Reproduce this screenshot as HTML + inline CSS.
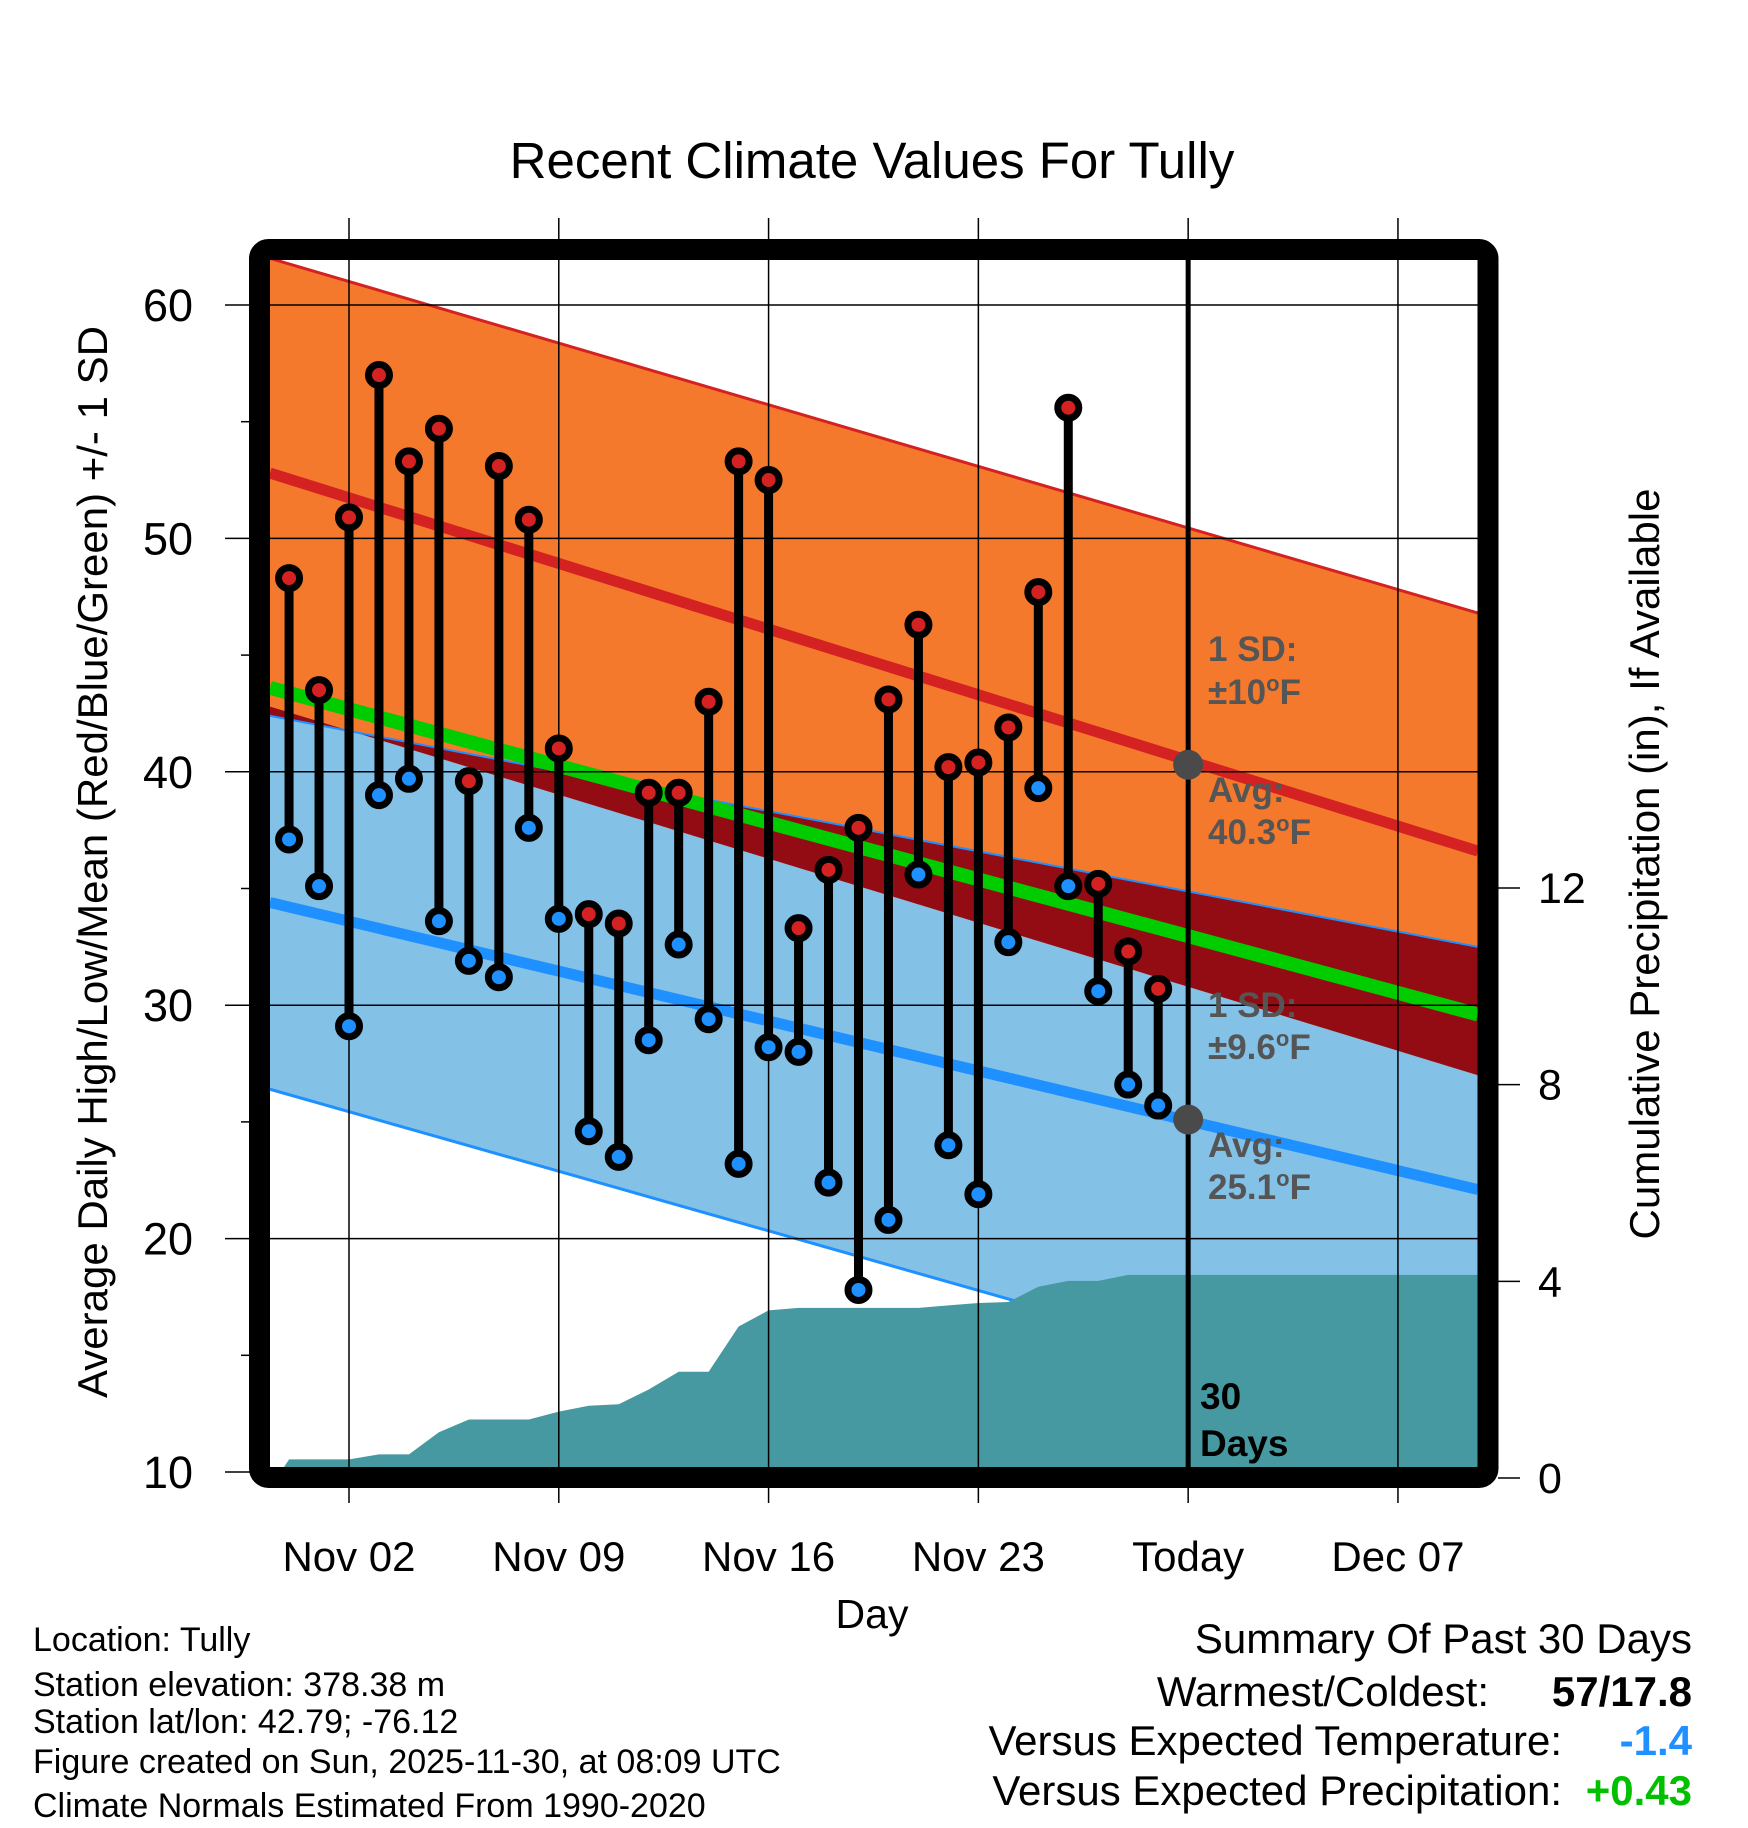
<!DOCTYPE html>
<html><head><meta charset="utf-8"><style>
html,body{margin:0;padding:0;background:#fff;}
svg{display:block;font-family:"Liberation Sans",sans-serif;}
</style></head><body>
<svg id="chart" width="1748" height="1828" viewBox="0 0 1748 1828">
<defs><clipPath id="inner"><rect x="270" y="260" width="1208" height="1208"/></clipPath></defs>
<text x="872" y="178" font-size="51" text-anchor="middle">Recent Climate Values For Tully</text>
<g id="plot" clip-path="url(#inner)"></g>
<g id="overlay"></g>
<rect x="259.5" y="249.5" width="1228.5" height="1228" rx="9" fill="none" stroke="#000" stroke-width="21"/>
<g id="axes"></g>
<text x="107" y="862" font-size="42" text-anchor="middle" transform="rotate(-90 107 862)">Average Daily High/Low/Mean (Red/Blue/Green) +/- 1 SD</text>
<text x="1659" y="864" font-size="42" text-anchor="middle" transform="rotate(-90 1659 864)">Cumulative Precipitation (in), If Available</text>
<text x="872" y="1628" font-size="41" text-anchor="middle">Day</text>
<g font-size="34">
<text x="33" y="1651">Location: Tully</text>
<text x="33" y="1696">Station elevation: 378.38 m</text>
<text x="33" y="1733">Station lat/lon: 42.79; -76.12</text>
<text x="33" y="1773">Figure created on Sun, 2025-11-30, at 08:09 UTC</text>
<text x="33" y="1817">Climate Normals Estimated From 1990-2020</text>
</g>
<g font-size="42" text-anchor="end">
<text x="1692" y="1653">Summary Of Past 30 Days</text>
<text x="1489" y="1706">Warmest/Coldest:</text>
<text x="1692" y="1706" font-weight="bold">57/17.8</text>
<text x="1562" y="1755">Versus Expected Temperature:</text>
<text x="1692" y="1755" font-weight="bold" fill="#1e90ff">-1.4</text>
<text x="1562" y="1805">Versus Expected Precipitation:</text>
<text x="1692" y="1805" font-weight="bold" fill="#00c000">+0.43</text>
</g>
</svg>
<script>
const highs=[48.3,43.5,50.9,57.0,53.3,54.7,39.6,53.1,50.8,41.0,33.9,33.5,39.1,39.1,43.0,53.3,52.5,33.3,35.8,37.6,43.1,46.3,40.2,40.4,41.9,47.7,55.6,35.2,32.3,30.7];
const lows=[37.1,35.1,29.1,39.0,39.7,33.6,31.9,31.2,37.6,33.7,24.6,23.5,28.5,32.6,29.4,23.2,28.2,28.0,22.4,17.8,20.8,35.6,24.0,21.9,32.7,39.3,35.1,30.6,26.6,25.7];
const precip=[0.38,0.38,0.38,0.48,0.48,0.93,1.19,1.19,1.19,1.35,1.47,1.50,1.80,2.16,2.16,3.08,3.41,3.46,3.46,3.46,3.46,3.46,3.51,3.56,3.58,3.89,4.01,4.01,4.13,4.13];
const normHigh=[52.8,36.6];
const normHighUp=[62.0,46.8];
const normHighDn=[42.8,27.0];
const normLow=[34.4,22.1];
const normLowUp=[42.4,32.5];
const normLowDn=[26.4,11.7];
const normMean=[43.6,29.6];
const xTickLabels=["Nov 02","Nov 09","Nov 16","Nov 23","Today","Dec 07"];
const xTickDays=[2,9,16,23,30,37];
const yTicks=[10,20,30,40,50,60];
const pTicks=[0,4,8,12];
const todayHigh=40.3, todayLow=25.1;

const NS="http://www.w3.org/2000/svg";
const X=d=>349+(d-2)*29.97;
const Y=t=>305+(60-t)*23.34;
const P=p=>1478-p*49.17;
const D0=-0.64, D1=39.67;
function mk(tag,attrs,parent){const e=document.createElementNS(NS,tag);for(const k in attrs)e.setAttribute(k,attrs[k]);parent.appendChild(e);return e;}
const plot=document.getElementById('plot'),ov=document.getElementById('overlay'),axes=document.getElementById('axes');
function band(a,b,fill,name){
  const pts=[[X(D0),Y(a[0])],[X(D1),Y(a[1])],[X(D1),Y(b[1])],[X(D0),Y(b[0])]];
  const e=mk('polygon',{points:pts.map(p=>p.join(',')).join(' '),fill:fill},plot);
  
  
}
function line(a,color,w,name){
  const e=mk('line',{x1:X(D0),y1:Y(a[0]),x2:X(D1),y2:Y(a[1]),stroke:color,'stroke-width':w},plot);
  
  
}
band(normLowUp,normLowDn,'#84c1e7','low-sd-band');
band(normHighUp,normHighDn,'#f5792d','high-sd-band');
band(normLowUp,normHighDn,'#940c13','overlap-band');
line(normHighUp,'#d42222',3,'high-plus-sd-line');
line(normLowUp,'#1e90ff',2,'low-plus-sd-line');
line(normLowDn,'#1e90ff',3,'low-minus-sd-line');
line(normHigh,'#d42222',11,'normal-high-line');
line(normMean,'#00cc00',14,'normal-mean-line');
line(normLow,'#1e90ff',11,'normal-low-line');
let pp=[[X(D0)+7,P(0)]];
precip.forEach((v,i)=>pp.push([X(i),P(v)]));
pp.push([X(D1),P(precip[precip.length-1])],[X(D1),P(0)]);
const pa=mk('polygon',{points:pp.map(p=>p.join(',')).join(' '),fill:'#4699a1'},plot);


xTickDays.forEach((d,i)=>{
  const g=mk('line',{x1:X(d),y1:218,x2:X(d),y2:1503,stroke:'#000','stroke-width':1.5},ov);
  
  
  const t=mk('text',{x:X(d),y:1571,'font-size':42,'text-anchor':'middle'},axes);
  t.textContent=xTickLabels[i];
  
  
});
yTicks.forEach(v=>{
  const g=mk('line',{x1:225,y1:Y(v),x2:1478,y2:Y(v),stroke:'#000','stroke-width':1.5},ov);
  
  
  const t=mk('text',{x:193,y:Y(v)+16,'font-size':45,'text-anchor':'end'},axes);
  t.textContent=v;
  
  
});
[15,25,35,45,55].forEach(v=>{
  const g=mk('line',{x1:241,y1:Y(v),x2:250,y2:Y(v),stroke:'#000','stroke-width':1.5},axes);
  
  
});
pTicks.forEach(v=>{
  const g=mk('line',{x1:1498,y1:P(v),x2:1520,y2:P(v),stroke:'#000','stroke-width':1.5},axes);
  
  
  const t=mk('text',{x:1538,y:P(v)+15,'font-size':43},axes);
  t.textContent=v;
  
  
});
const tl=mk('line',{x1:X(30),y1:260,x2:X(30),y2:1468,stroke:'#000','stroke-width':5},ov);


highs.forEach((h,i)=>{
  const l=lows[i],x=X(i);
  const s=mk('line',{x1:x,y1:Y(h),x2:x,y2:Y(l),stroke:'#000','stroke-width':9},ov);
  
  
  const c1=mk('circle',{cx:x,cy:Y(h),r:10.5,fill:'#d42222',stroke:'#000','stroke-width':7},ov);
  
  
  const c2=mk('circle',{cx:x,cy:Y(l),r:10.5,fill:'#1e90ff',stroke:'#000','stroke-width':7},ov);
  
  
});
[todayHigh,todayLow].forEach(v=>{
  const c=mk('circle',{cx:X(30),cy:Y(v),r:15,fill:'#4a4a4a'},ov);
  
  
});
const ann=[["1 SD:",661,""],["±10",704,"F"],["Avg:",802,""],[todayHigh.toFixed(1),844,"F"],["1 SD:",1017,""],["±9.6",1059,"F"],["Avg:",1157,""],[todayLow.toFixed(1),1199,"F"]];
ann.forEach(a=>{
  const t=mk('text',{x:1208,y:a[1],'font-size':35,'font-weight':'bold',fill:'#555'},ov);
  t.textContent=a[0];
  if(a[2]){
    const s1=mk('tspan',{dy:-13,'font-size':22},t); s1.textContent='o';
    const s2=mk('tspan',{dy:13},t); s2.textContent=a[2];
  }
  
  
});
[["30",1409],["Days",1456]].forEach(a=>{
  const t=mk('text',{x:1200,y:a[1],'font-size':37,'font-weight':'bold',fill:'#000'},ov);
  t.textContent=a[0];
  
  
});
</script>
</body></html>
